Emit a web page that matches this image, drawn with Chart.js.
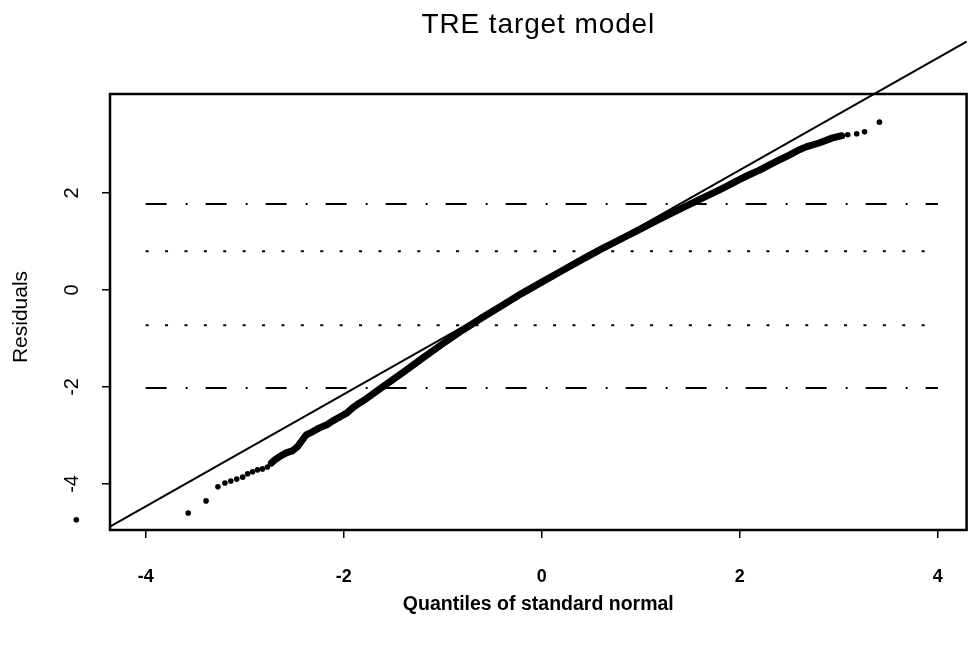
<!DOCTYPE html>
<html>
<head>
<meta charset="utf-8">
<script src="https://cdn.jsdelivr.net/npm/chart.js@4.4.1/dist/chart.umd.min.js"></script>
<style>
  html, body { margin: 0; padding: 0; background: #fff; }
  #wrap { width: 971px; height: 645px; }
</style>
</head>
<body>
<div id="wrap"><canvas id="qq" width="971" height="645"></canvas></div>
<script>
// Text
const chartTitle = 'TRE target model';
const xTitle = 'Quantiles of standard normal';
const yTitle = 'Residuals';

// Axes
const xTicks = [-4, -2, 0, 2, 4];
const yTicks = [-4, -2, 0, 2];
const xRange = [-4.36, 4.29];
const yRange = [-4.95, 4.04];

// Ordered residuals against standard normal quantiles.
// Lower tail: isolated points
const qLower = [-3.57, -3.39, -3.27, -3.20, -3.14, -3.08, -3.02, -2.97, -2.92, -2.87, -2.82, -2.77];
const rLower = [-4.60, -4.35, -4.06, -3.98, -3.94, -3.90, -3.86, -3.79, -3.75, -3.71, -3.69, -3.65];
// Dense body of the distribution
const qBody = [-2.73, -2.70, -2.65, -2.58, -2.52, -2.47, -2.43, -2.38, -2.32, -2.25, -2.17, -2.11, -2.04,
               -1.97, -1.91, -1.84, -1.79, -1.60, -1.40, -1.20, -1.00, -0.80, -0.60, -0.40, -0.20, 0.00,
               0.20, 0.40, 0.60, 0.80, 1.00, 1.20, 1.40, 1.59, 1.69, 1.79, 1.89, 1.99, 2.09, 2.20, 2.30,
               2.40, 2.50, 2.60, 2.67, 2.80, 2.93, 3.03];
const rBody = [-3.57, -3.51, -3.44, -3.36, -3.32, -3.24, -3.13, -2.99, -2.93, -2.85, -2.78, -2.70, -2.62,
               -2.54, -2.43, -2.33, -2.27, -1.99, -1.70, -1.40, -1.11, -0.83, -0.57, -0.32, -0.07, 0.16,
               0.39, 0.62, 0.84, 1.05, 1.26, 1.47, 1.67, 1.86, 1.96, 2.06, 2.16, 2.27, 2.37, 2.47, 2.58,
               2.68, 2.78, 2.89, 2.95, 3.03, 3.13, 3.18];
// Upper tail: isolated points
const qUpper = [3.09, 3.18, 3.26, 3.41];
const rUpper = [3.20, 3.22, 3.26, 3.46];
// Stray point left of the frame
const qStray = [-4.70];
const rStray = [-4.74];

// Reference line (ends at the plot edges)
const refX = [-4.36, 4.29];
const refY = [-4.88, 5.12];

// Horizontal limit lines
const limitSpan = [-4, 4];
const outerLimits = [1.77, -2.02];   // dash-dot
const innerLimits = [0.80, -0.73];   // dotted

const pts = (xs, ys) => xs.map((x, i) => ({ x, y: ys[i] }));
const INK = '#000';
const DOT_R = 2.8;
const FONT = '"Liberation Sans", Arial, Helvetica, sans-serif';

const limitSet = (level, dash) => ({
  data: pts(limitSpan, [level, level]),
  showLine: true,
  borderColor: INK,
  borderWidth: 2,
  borderDash: dash,
  borderCapStyle: 'butt',
  pointRadius: 0,
  order: 5
});

const datasets = [
  ...outerLimits.map(v => limitSet(v, [21, 19, 2, 18])),
  ...innerLimits.map(v => limitSet(v, [3, 16.4])),
  {
    data: pts(refX, refY),
    showLine: true,
    borderColor: INK,
    borderWidth: 2,
    pointRadius: 0,
    clip: false,
    order: 4
  },
  {
    data: pts(qBody, rBody),
    showLine: true,
    borderColor: INK,
    borderWidth: 7,
    borderCapStyle: 'round',
    borderJoinStyle: 'round',
    pointRadius: DOT_R,
    pointBorderWidth: 0,
    pointBackgroundColor: INK,
    order: 1
  },
  {
    data: pts(qLower, rLower).concat(pts(qUpper, rUpper)),
    showLine: false,
    pointRadius: DOT_R,
    pointBorderWidth: 0,
    pointBackgroundColor: INK,
    clip: false,
    order: 1
  }
];

const fixedTicks = vals => scale => { scale.ticks = vals.map(value => ({ value })); };

// Frame, title, the stray point outside the frame and the rotated left-axis text
const frame = {
  id: 'frame',
  afterDatasetsDraw(chart) {
    const { ctx, chartArea: a, scales: { x, y } } = chart;
    ctx.save();
    ctx.strokeStyle = INK;
    ctx.lineWidth = 2.5;
    ctx.strokeRect(a.left, a.top, a.right - a.left, a.bottom - a.top);
    ctx.fillStyle = INK;
    qStray.forEach((q, i) => {
      ctx.beginPath();
      ctx.arc(x.getPixelForValue(q), y.getPixelForValue(rStray[i]), DOT_R, 0, Math.PI * 2);
      ctx.fill();
    });
    ctx.restore();
  },
  afterDraw(chart) {
    const { ctx, chartArea: a, scales: { y } } = chart;
    ctx.save();
    ctx.fillStyle = INK;
    ctx.textAlign = 'center';
    ctx.textBaseline = 'middle';

    ctx.font = '28px ' + FONT;
    ctx.letterSpacing = '0.9px';
    ctx.fillText(chartTitle, (a.left + a.right) / 2, 25);
    ctx.letterSpacing = '0px';

    ctx.font = '20px ' + FONT;
    yTicks.forEach(v => {
      ctx.save();
      ctx.translate(72, y.getPixelForValue(v));
      ctx.rotate(-Math.PI / 2);
      ctx.fillText(String(v), 0, 0);
      ctx.restore();
    });

    ctx.font = '21px ' + FONT;
    ctx.translate(21, 317);
    ctx.rotate(-Math.PI / 2);
    ctx.fillText(yTitle, 0, 0);
    ctx.restore();
  }
};

new Chart(document.getElementById('qq'), {
  type: 'scatter',
  data: { datasets },
  plugins: [frame],
  options: {
    responsive: false,
    animation: false,
    devicePixelRatio: 1,
    layout: { padding: { top: 94, right: 3, left: 0, bottom: 0 } },
    plugins: { legend: { display: false }, tooltip: { enabled: false }, title: { display: false } },
    scales: {
      x: {
        type: 'linear',
        min: xRange[0],
        max: xRange[1],
        afterBuildTicks: fixedTicks(xTicks),
        afterFit: s => { s.height = 115; },
        border: { display: false },
        grid: { drawOnChartArea: false, drawTicks: true, tickLength: 8, color: INK, lineWidth: 1.5 },
        ticks: { color: INK, padding: 28, font: { family: FONT, size: 18, weight: 'bold' }, maxRotation: 0 },
        title: {
          display: true,
          text: xTitle,
          color: INK,
          font: { family: FONT, size: 19.5, weight: 'bold' },
          padding: { top: 0, bottom: 29 }
        }
      },
      y: {
        type: 'linear',
        min: yRange[0],
        max: yRange[1],
        afterBuildTicks: fixedTicks(yTicks),
        afterFit: s => { s.width = 110; },
        border: { display: false },
        grid: { drawOnChartArea: false, drawTicks: true, tickLength: 8, color: INK, lineWidth: 1.5 },
        ticks: { color: 'rgba(0,0,0,0)', font: { family: FONT, size: 20 } }
      }
    }
  }
});
</script>
</body>
</html>
